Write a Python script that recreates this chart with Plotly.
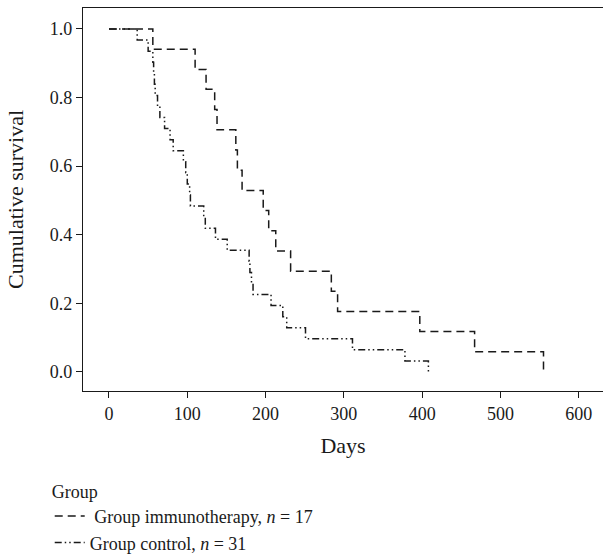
import plotly.graph_objects as go

# Kaplan-Meier step data
immuno_days = [0, 56, 110, 124, 135, 138, 162, 164, 170, 197, 204, 213, 232, 284, 292, 397, 467, 555]
immuno_surv = [1.0, 0.941, 0.882, 0.824, 0.765, 0.706, 0.647, 0.588, 0.529, 0.471, 0.412,
               0.353, 0.294, 0.235, 0.176, 0.118, 0.059, 0.0]

control_days = [0, 36, 50, 56, 57, 58, 59, 62, 65, 71, 78, 82, 95, 98, 100, 103, 104, 121, 123,
                136, 151, 179, 180, 182, 184, 207, 222, 227, 251, 311, 378, 408]
control_surv = [1.0, 0.968, 0.935, 0.903, 0.871, 0.839, 0.806, 0.774, 0.742, 0.710, 0.677,
                0.645, 0.613, 0.581, 0.548, 0.516, 0.484, 0.452, 0.419, 0.387, 0.355, 0.323,
                0.290, 0.258, 0.226, 0.194, 0.161, 0.129, 0.097, 0.065, 0.032, 0.0]

x_ticks = [0, 100, 200, 300, 400, 500, 600]
y_ticks = [0.0, 0.2, 0.4, 0.6, 0.8, 1.0]
y_tick_labels = ["0.0", "0.2", "0.4", "0.6", "0.8", "1.0"]

FONT = "Liberation Serif"
FS = 18

fig = go.Figure()
fig.add_trace(go.Scatter(
    x=immuno_days, y=immuno_surv, mode="lines", line_shape="hv",
    line=dict(color="#1a1a1a", width=1.5, dash="8px,5px"),
    name=" Group immunotherapy, <i>n</i> = 17"))
fig.add_trace(go.Scatter(
    x=control_days, y=control_surv, mode="lines", line_shape="hv",
    line=dict(color="#1a1a1a", width=1.5, dash="7px,3px,1.5px,3px,1.5px,3px"),
    name="Group control, <i>n</i> = 31"))

fig.update_layout(
    width=603, height=557,
    margin=dict(l=83, r=0, t=8, b=166, autoexpand=False),
    plot_bgcolor="white", paper_bgcolor="white",
    font=dict(family=FONT, size=FS, color="#1a1a1a"),
    showlegend=True,
    legend=dict(
        title=dict(text="Group", side="top", font=dict(family=FONT, size=FS)),
        x=-0.064, xanchor="left", y=-0.218, yanchor="top",
        font=dict(family=FONT, size=FS), itemwidth=30,
        bgcolor="rgba(0,0,0,0)", tracegroupgap=0,
    ),
)
fig.update_xaxes(
    range=[-33.2, 631], tickvals=x_ticks, ticks="outside", ticklen=6,
    tickcolor="#1a1a1a", showline=True, linecolor="#1a1a1a", linewidth=1.3,
    mirror=True, showgrid=False, zeroline=False, automargin=False,
    title=dict(text="Days", standoff=14), tickfont=dict(size=FS),
)
fig.update_yaxes(
    range=[-0.0554, 1.061], tickvals=y_ticks, ticktext=y_tick_labels, ticks="outside",
    ticklen=6, tickcolor="#1a1a1a", showline=True, linecolor="#1a1a1a", linewidth=1.3,
    showgrid=False, zeroline=False, automargin=False,
    title=dict(text="Cumulative survival", standoff=20), tickfont=dict(size=FS),
)

fig.write_html("out.html", config={"displayModeBar": False},
               post_script="document.body.style.margin='0';")
